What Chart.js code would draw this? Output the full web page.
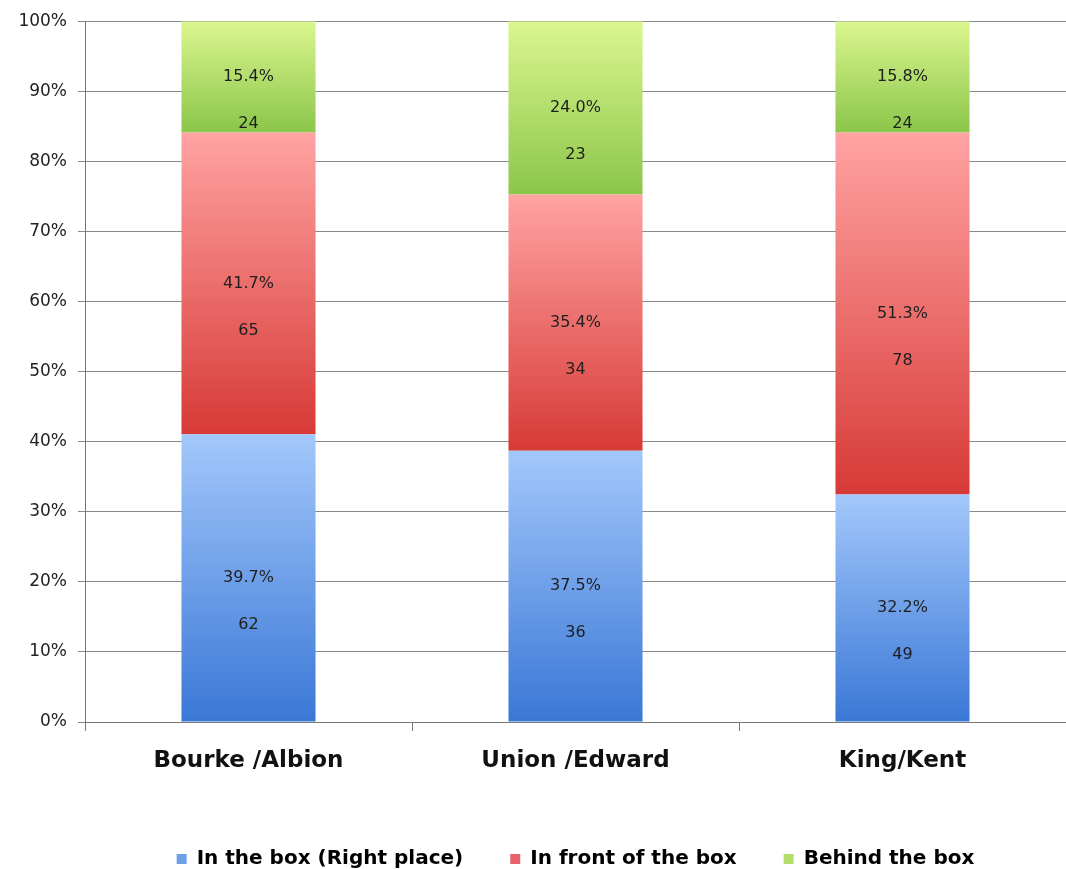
<!DOCTYPE html>
<html>
<head>
<meta charset="utf-8">
<script src="https://cdn.jsdelivr.net/npm/chart.js@4.4.0/dist/chart.umd.min.js"></script>
<style>
html,body{margin:0;padding:0;background:#fff;}
#wrap{width:1066px;height:869px;position:relative;}
</style>
</head>
<body>
<div id="wrap"><canvas id="c" width="1066" height="869"></canvas></div>
<script>
const categories = ['Bourke /Albion', 'Union /Edward', 'King/Kent'];
const seriesNames = ['In the box (Right place)', 'In front of the box', 'Behind the box'];
const inBoxCounts = [62, 36, 49];
const inFrontCounts = [65, 34, 78];
const behindCounts = [24, 23, 24];
const inBoxPctLabels = ['39.7%', '37.5%', '32.2%'];
const inFrontPctLabels = ['41.7%', '35.4%', '51.3%'];
const behindPctLabels = ['15.4%', '24.0%', '15.8%'];
const yTickValues = [0, 10, 20, 30, 40, 50, 60, 70, 80, 90, 100];

const counts = [inBoxCounts, inFrontCounts, behindCounts];
const pctLabels = [inBoxPctLabels, inFrontPctLabels, behindPctLabels];
const totals = categories.map((_, j) => counts.reduce((s, arr) => s + arr[j], 0));
const shares = counts.map(arr => arr.map((v, j) => v / totals[j] * 100));

const gradStops = [
  ['#a3c8fb', '#3a77d6'],
  ['#ffa3a3', '#d73a36'],
  ['#dbf690', '#8bc64a']
];
const solid = ['#6f9fe8', '#e8606a', '#b5de6c'];

function segGradient(ctx, dsIndex) {
  const chart = ctx.chart;
  if (!chart.chartArea || ctx.type !== 'data') return solid[dsIndex];
  const j = ctx.dataIndex;
  let start = 0;
  for (let i = 0; i < dsIndex; i++) start += shares[i][j];
  const end = start + shares[dsIndex][j];
  const ys = chart.scales.y;
  const top = ys.getPixelForValue(end);
  const bot = ys.getPixelForValue(start);
  const g = chart.ctx.createLinearGradient(0, top, 0, bot);
  g.addColorStop(0, gradStops[dsIndex][0]);
  g.addColorStop(1, gradStops[dsIndex][1]);
  return g;
}

const labelPlugin = {
  id: 'segLabels',
  afterDatasetsDraw(chart) {
    const c = chart.ctx;
    c.save();
    c.textAlign = 'center';
    c.textBaseline = 'middle';
    c.fillStyle = '#1e1e1e';
    c.font = '16px "DejaVu Sans", sans-serif';
    chart.data.datasets.forEach((ds, i) => {
      const meta = chart.getDatasetMeta(i);
      meta.data.forEach((bar, j) => {
        const mid = (bar.y + bar.base) / 2;
        c.fillText(pctLabels[i][j], bar.x, mid);
        c.fillText(String(counts[i][j]), bar.x, mid + 47);
      });
    });
    c.restore();
  }
};

new Chart(document.getElementById('c'), {
  type: 'bar',
  data: {
    labels: categories,
    datasets: seriesNames.map((name, i) => ({
      label: name,
      data: shares[i],
      backgroundColor: ctx => segGradient(ctx, i),
      borderWidth: 0,
      barPercentage: 1,
      categoryPercentage: 0.41
    }))
  },
  options: {
    responsive: false,
    animation: false,
    devicePixelRatio: 1,
    layout: { padding: { top: 21, right: 0, left: 0, bottom: -10 } },
    plugins: {
      tooltip: { enabled: false },
      legend: {
        position: 'bottom',
        fullSize: false,
        labels: {
          color: '#1a1a1a',
          font: { family: '"DejaVu Sans", sans-serif', size: 20, weight: 'bold' },
          boxWidth: 10,
          boxHeight: 10,
          padding: 47,
          generateLabels(chart) {
            return seriesNames.map((n, i) => ({
              text: n,
              fillStyle: solid[i],
              strokeStyle: solid[i],
              lineWidth: 0,
              datasetIndex: i
            }));
          }
        }
      }
    },
    scales: {
      x: {
        stacked: true,
        grid: {
          display: true,
          offset: true,
          drawOnChartArea: false,
          drawTicks: true,
          tickLength: 9,
          color: '#777'
        },
        border: { display: true, color: '#777', width: 1 },
        ticks: {
          color: '#111',
          font: { family: '"DejaVu Sans", sans-serif', size: 23, weight: 'bold' },
          padding: 16
        },
        afterFit(scale) { scale.height = 80; }
      },
      y: {
        stacked: true,
        min: 0,
        max: 100,
        afterBuildTicks(scale) { scale.ticks = yTickValues.map(v => ({ value: v })); },
        grid: { color: '#888', tickLength: 7, drawTicks: true },
        border: { display: true, color: '#777', width: 1 },
        ticks: {
          color: '#222',
          font: { family: '"DejaVu Sans", sans-serif', size: 17 },
          padding: 11,
          callback: v => v + '%'
        },
        afterFit(scale) { scale.width = 85; }
      }
    }
  },
  plugins: [labelPlugin]
});
</script>
</body>
</html>
